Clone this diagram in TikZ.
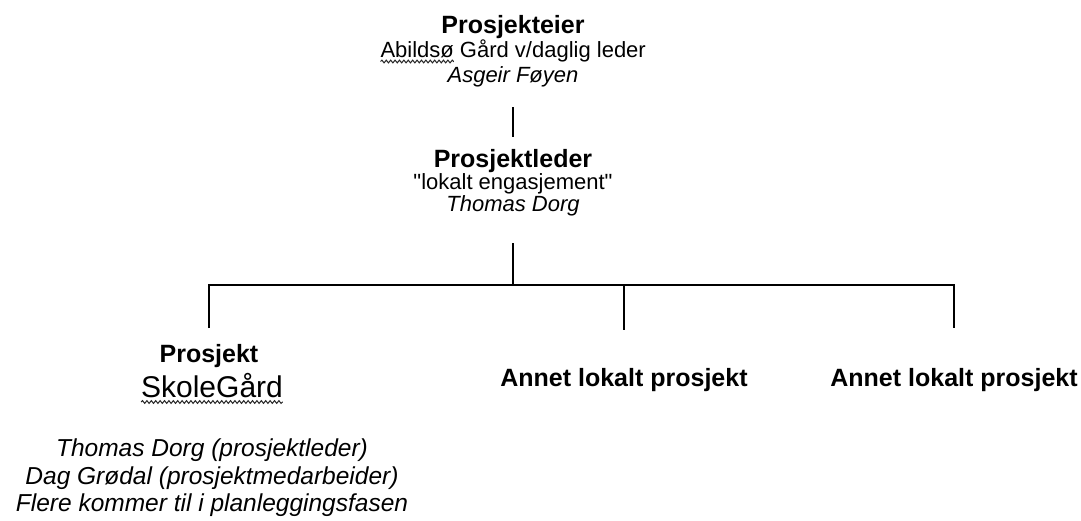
\documentclass[tikz,border=0pt]{standalone}
\usepackage{fontspec}
\setmainfont{Liberation Sans}[Ligatures=TeXOff]
\usetikzlibrary{decorations.pathmorphing}
\tikzset{
  txt/.style={anchor=base, inner sep=0pt, outer sep=0pt, text=black},
  boldtxt/.style={txt, font=\fontsize{25}{27}\selectfont\bfseries},
  regtxt/.style={txt, font=\fontsize{22}{24}\selectfont},
  ittxt/.style={txt, font=\fontsize{22}{24}\selectfont\itshape},
  bigit/.style={txt, font=\fontsize{24.5}{27}\selectfont\itshape},
  bigtxt/.style={txt, font=\fontsize{30}{32}\selectfont},
  conn/.style={draw=black, line width=1.8pt},
  wavy/.style={draw=black!85, line width=1pt, decorate,
    decoration={snake, amplitude=1.4pt, segment length=4.4pt}}
}
\begin{document}
\begin{tikzpicture}[x=1pt,y=-1pt]
\useasboundingbox (0,0) rectangle (1081,520);
\fill[white] (0,0) rectangle (1081,520);
% top block
\node[boldtxt] (eier1) at (513,33) {Prosjekteier};
\node[regtxt, anchor=base west] (abild) at (380.5,57) {Abildsø};
\node[regtxt, anchor=base west] (eier2) at ([xshift=6.1pt]abild.base east) {Gård v/daglig leder};
\node[ittxt]   (eier3) at (513,82) {Asgeir Føyen};
% leader block
\node[boldtxt] (leder1) at (513,167) {Prosjektleder};
\node[regtxt]  (leder2) at (513,189) {"lokalt engasjement"};
\node[ittxt]   (leder3) at (513,211) {Thomas Dorg};
% children
\node[boldtxt] (p1) at (209,362) {Prosjekt};
\node[bigtxt]  (skole) at (212,397) {SkoleGård};
\node[bigit]   (m1) at (212,456) {Thomas Dorg (prosjektleder)};
\node[bigit]   (m2) at (212,484) {Dag Grødal (prosjektmedarbeider)};
\node[bigit]   (m3) at (212,511) {Flere kommer til i planleggingsfasen};
\node[boldtxt] (a1) at (624,386) {Annet lokalt prosjekt};
\node[boldtxt] (a2) at (954,386) {Annet lokalt prosjekt};
% connectors
\coordinate (bar) at (513,285);
\draw[conn] ([yshift=-25pt]eier3.base) -- ([yshift=30pt]leder1.base);
\draw[conn] ([yshift=-32pt]leder3.base) -- (leder3.base |- bar);
\draw[conn] ([yshift=34pt]p1.base) -- (p1.base |- bar) -- (a2.base |- bar) -- ([yshift=58pt]a2.base);
\draw[conn] (a1.base |- bar) -- ([yshift=56pt]a1.base);
% spell-check underlines
\draw[wavy] ([yshift=-4.5pt]abild.base west) -- ([yshift=-4.5pt]abild.base east);
\draw[wavy] ([yshift=-5pt]skole.base west) -- ([yshift=-5pt]skole.base east);
\end{tikzpicture}
\end{document}
